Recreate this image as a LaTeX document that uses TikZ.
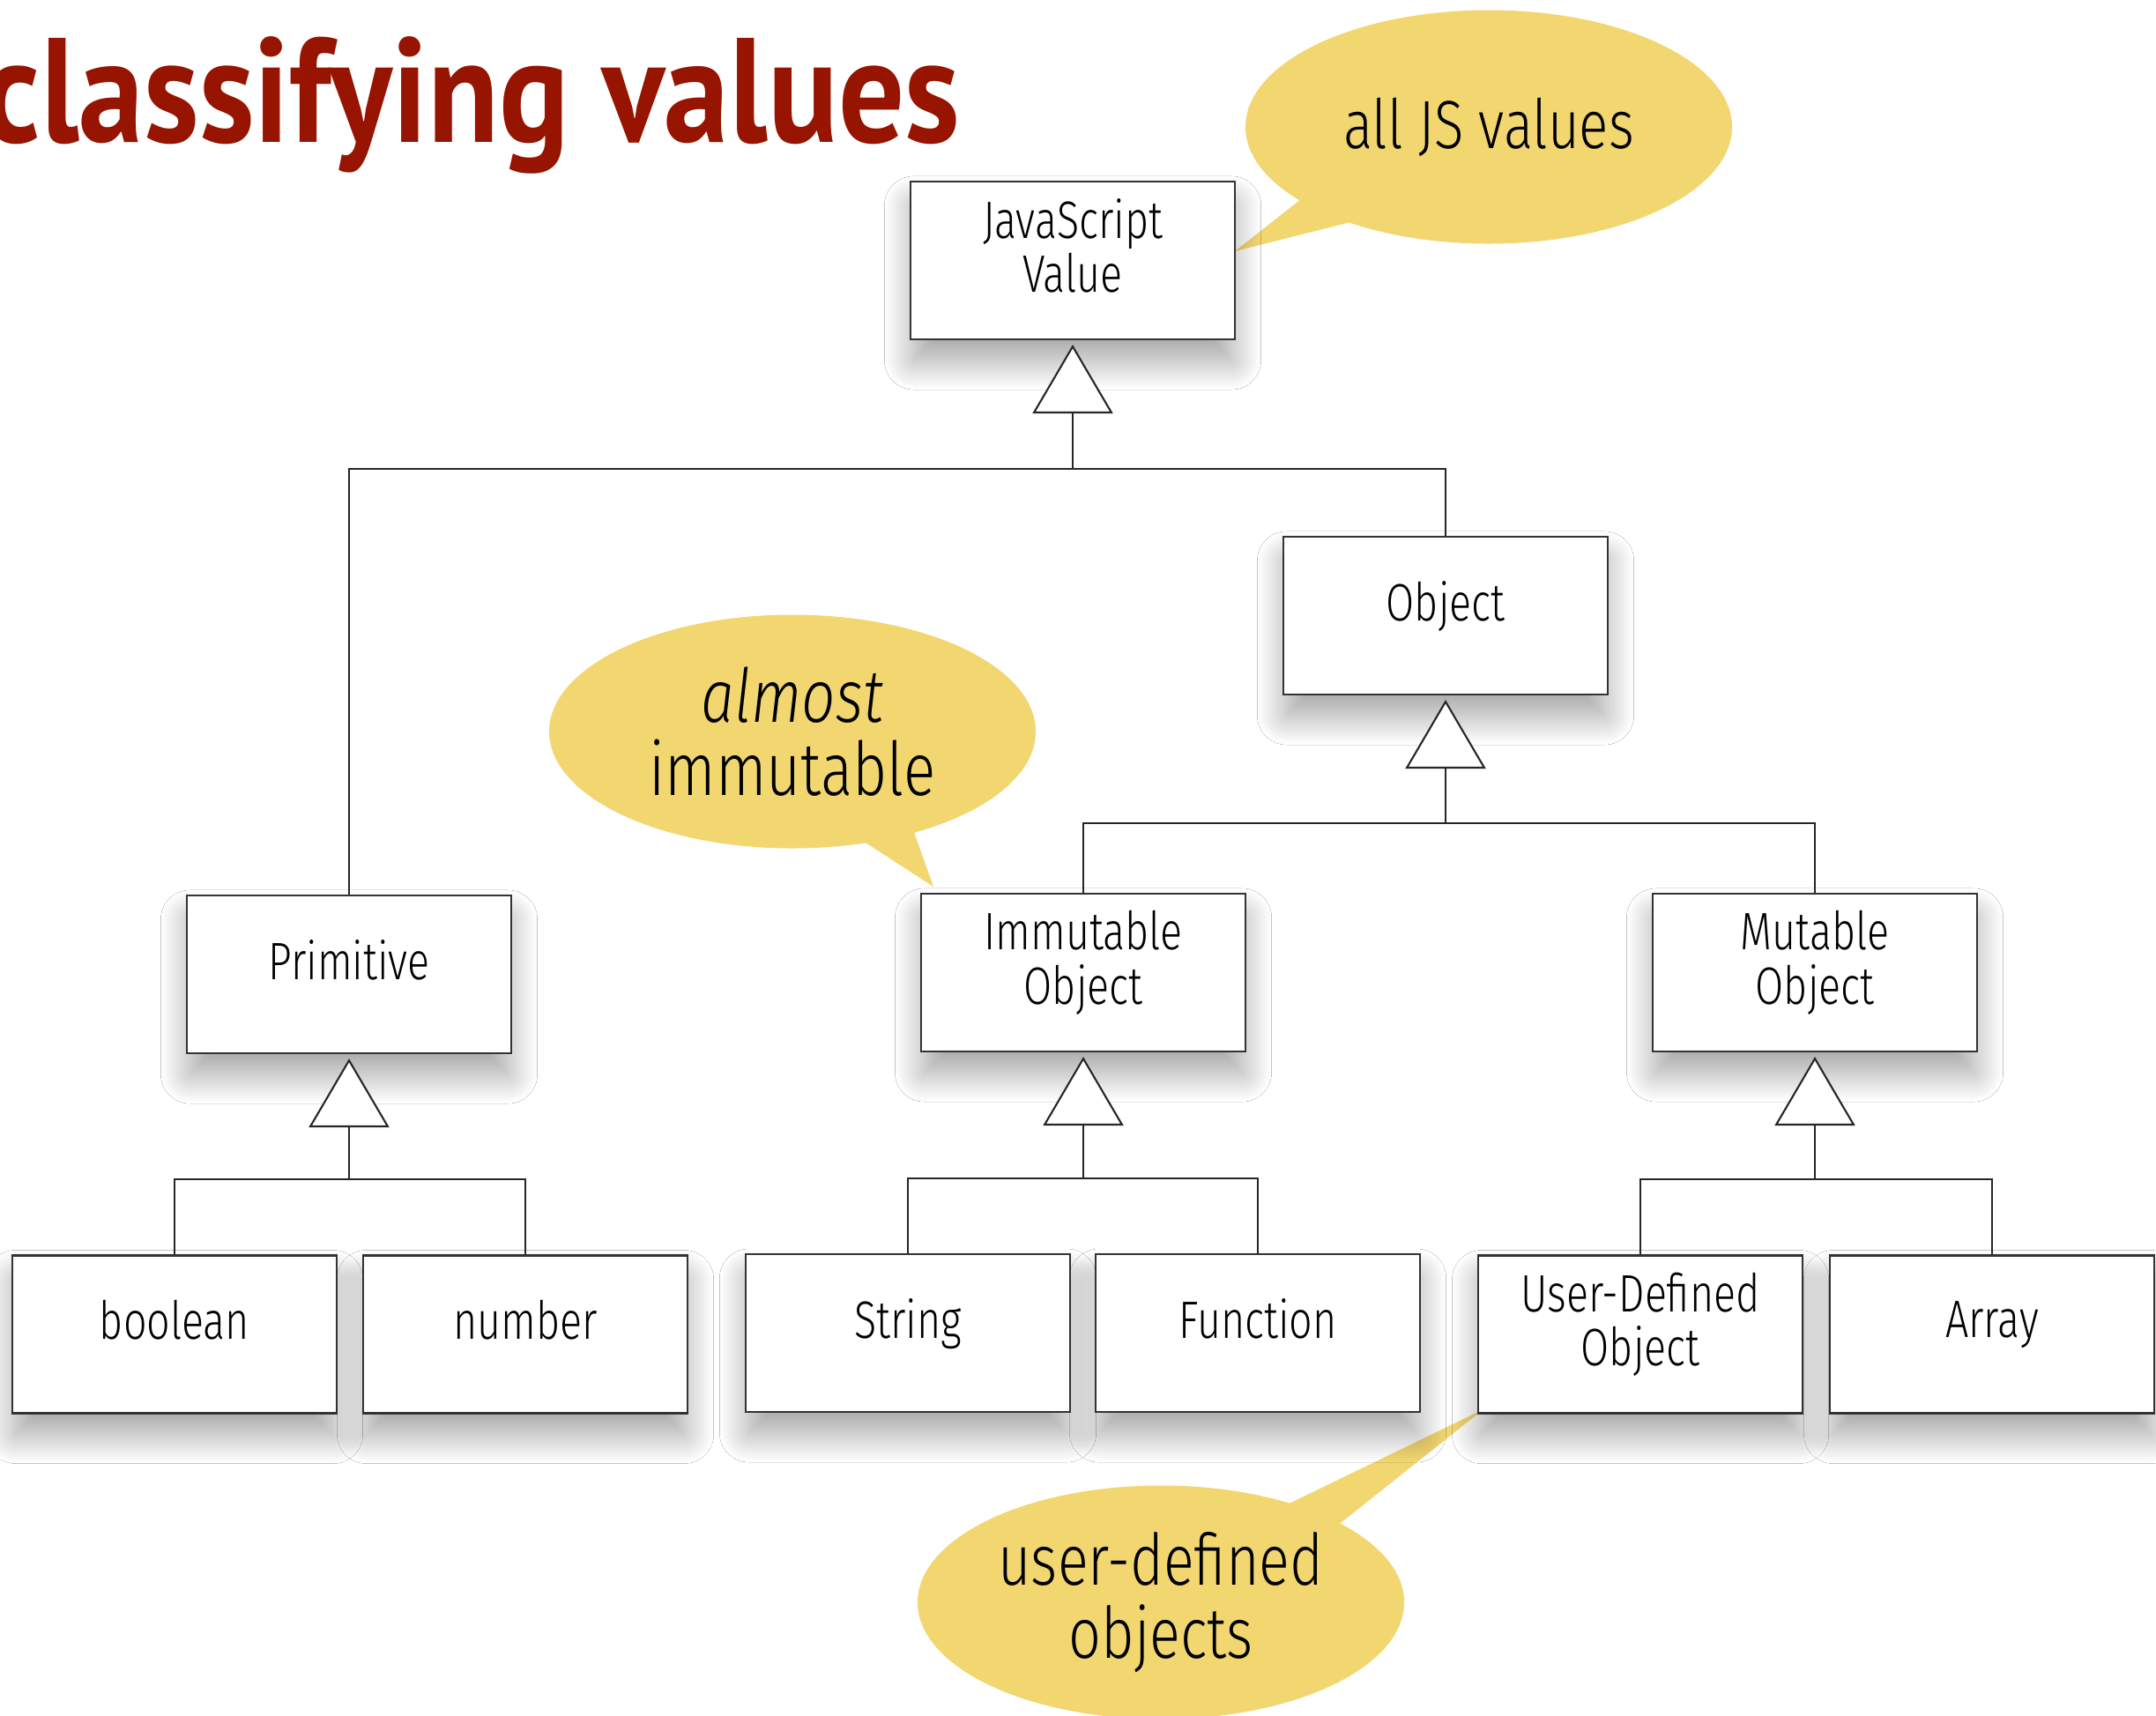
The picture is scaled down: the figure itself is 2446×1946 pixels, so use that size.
\documentclass[tikz,border=0pt]{standalone}
\usepackage{fontspec}
\usetikzlibrary{arrows.meta,shapes.geometric,shadows.blur}
\newfontfamily\titlefont[FakeStretch=0.88]{PT Sans}
\newfontfamily\boxfont[FakeStretch=0.78,UprightFont={* Light}]{Fira Sans}
\newfontfamily\bubfont[FakeStretch=0.8,UprightFont={* Light},ItalicFont={* Light Italic}]{Fira Sans}
\definecolor{titlered}{RGB}{150,20,0}
\definecolor{bubblecol}{RGB}{242,214,112}
\begin{document}
\begin{tikzpicture}[x=0.1mm,y=-0.1mm,
  cls/.style={draw=black!80, line width=0.6pt, fill=white,
    minimum width=36.8mm, minimum height=17.9mm, inner sep=0pt, align=center,
    font=\boxfont\fontsize{17}{17.5}\selectfont,
    blur shadow={shadow xshift=0mm, shadow yshift=-2.6mm, shadow blur radius=3.4mm, shadow blur steps=40, shadow opacity=38, shadow scale=0.98},
    execute at end node={\rule[-3.4mm]{0pt}{3.4mm}}},
  gen/.style={draw=black!85, line width=0.5pt,
    -{Triangle[open, fill=white, length=7.8mm, width=9.1mm, line width=0.6pt]}, shorten >=0.5mm},
  lnk/.style={draw=black!85, line width=0.5pt},
  bub/.style={ellipse, fill=bubblecol, inner sep=0pt, align=center,
    minimum width=55.2mm, minimum height=26.5mm},
  bubtail/.style={fill=bubblecol}
]
\useasboundingbox (0,0) rectangle (2446,1946);
\fill[white] (0,0) rectangle (2446,1946);

% title
\node[anchor=base east, inner sep=0pt, text=titlered,
  font=\titlefont\bfseries\fontsize{48}{48}\selectfont] (title) at (1090,161) {classifying values};

% bubbles (drawn first so boxes sit above tails)
\node[bub, font=\bubfont\fontsize{22}{22}\selectfont] (b1) at (1689,144) {all JS values};
\coordinate (t1) at (1401,285);
\fill[bubtail] (t1) -- (1490,215) -- (1560,245) -- cycle;

\node[bub, font=\bubfont\fontsize{24}{23.6}\selectfont] (b2) at (899,830) {\textit{almost}\\immutable};
\coordinate (t2) at (1059,1006);
\fill[bubtail] (t2) -- (965,945) -- (1030,925) -- cycle;

\node[bub, font=\bubfont\fontsize{23}{23.6}\selectfont] (b3) at (1317,1818) {user-defined\\objects};
\coordinate (t3) at (1683,1599);
\fill[bubtail] (t3) -- (1450,1712) -- (1512,1735) -- cycle;

% class boxes
\node[cls] (js)   at (1217,295.5)  {JavaScript\\Value};
\node[cls] (obj)  at (1640,698.5)  {Object};
\node[cls] (prim) at (396,1105.5)  {Primitive};
\node[cls] (imm)  at (1229,1103.5) {Immutable\\Object};
\node[cls] (mut)  at (2059,1103.5) {Mutable\\Object};
\node[cls] (bool) at (198,1514)    {boolean};
\node[cls] (num)  at (596,1514)    {number};
\node[cls] (str)  at (1030,1512.5) {String};
\node[cls] (fun)  at (1427,1512.5) {Function};
\node[cls] (udo)  at (1861,1514)   {User-Defined\\Object};
\node[cls] (arr)  at (2260,1514)   {Array};

% generalization connectors
\coordinate (bjs) at (1217,532);
\draw[lnk] (obj.north) |- (bjs);
\draw[gen] (prim.north) |- (bjs) -- (js.south);

\coordinate (bobj) at (1640,934);
\draw[lnk] (mut.north) |- (bobj);
\draw[gen] (imm.north) |- (bobj) -- (obj.south);

\coordinate (bprim) at (396,1338);
\draw[lnk] (num.north) |- (bprim);
\draw[gen] (bool.north) |- (bprim) -- (prim.south);

\coordinate (bimm) at (1229,1337);
\draw[lnk] (fun.north) |- (bimm);
\draw[gen] (str.north) |- (bimm) -- (imm.south);

\coordinate (bmut) at (2059,1338);
\draw[lnk] (arr.north) |- (bmut);
\draw[gen] (udo.north) |- (bmut) -- (mut.south);
\end{tikzpicture}
\end{document}
